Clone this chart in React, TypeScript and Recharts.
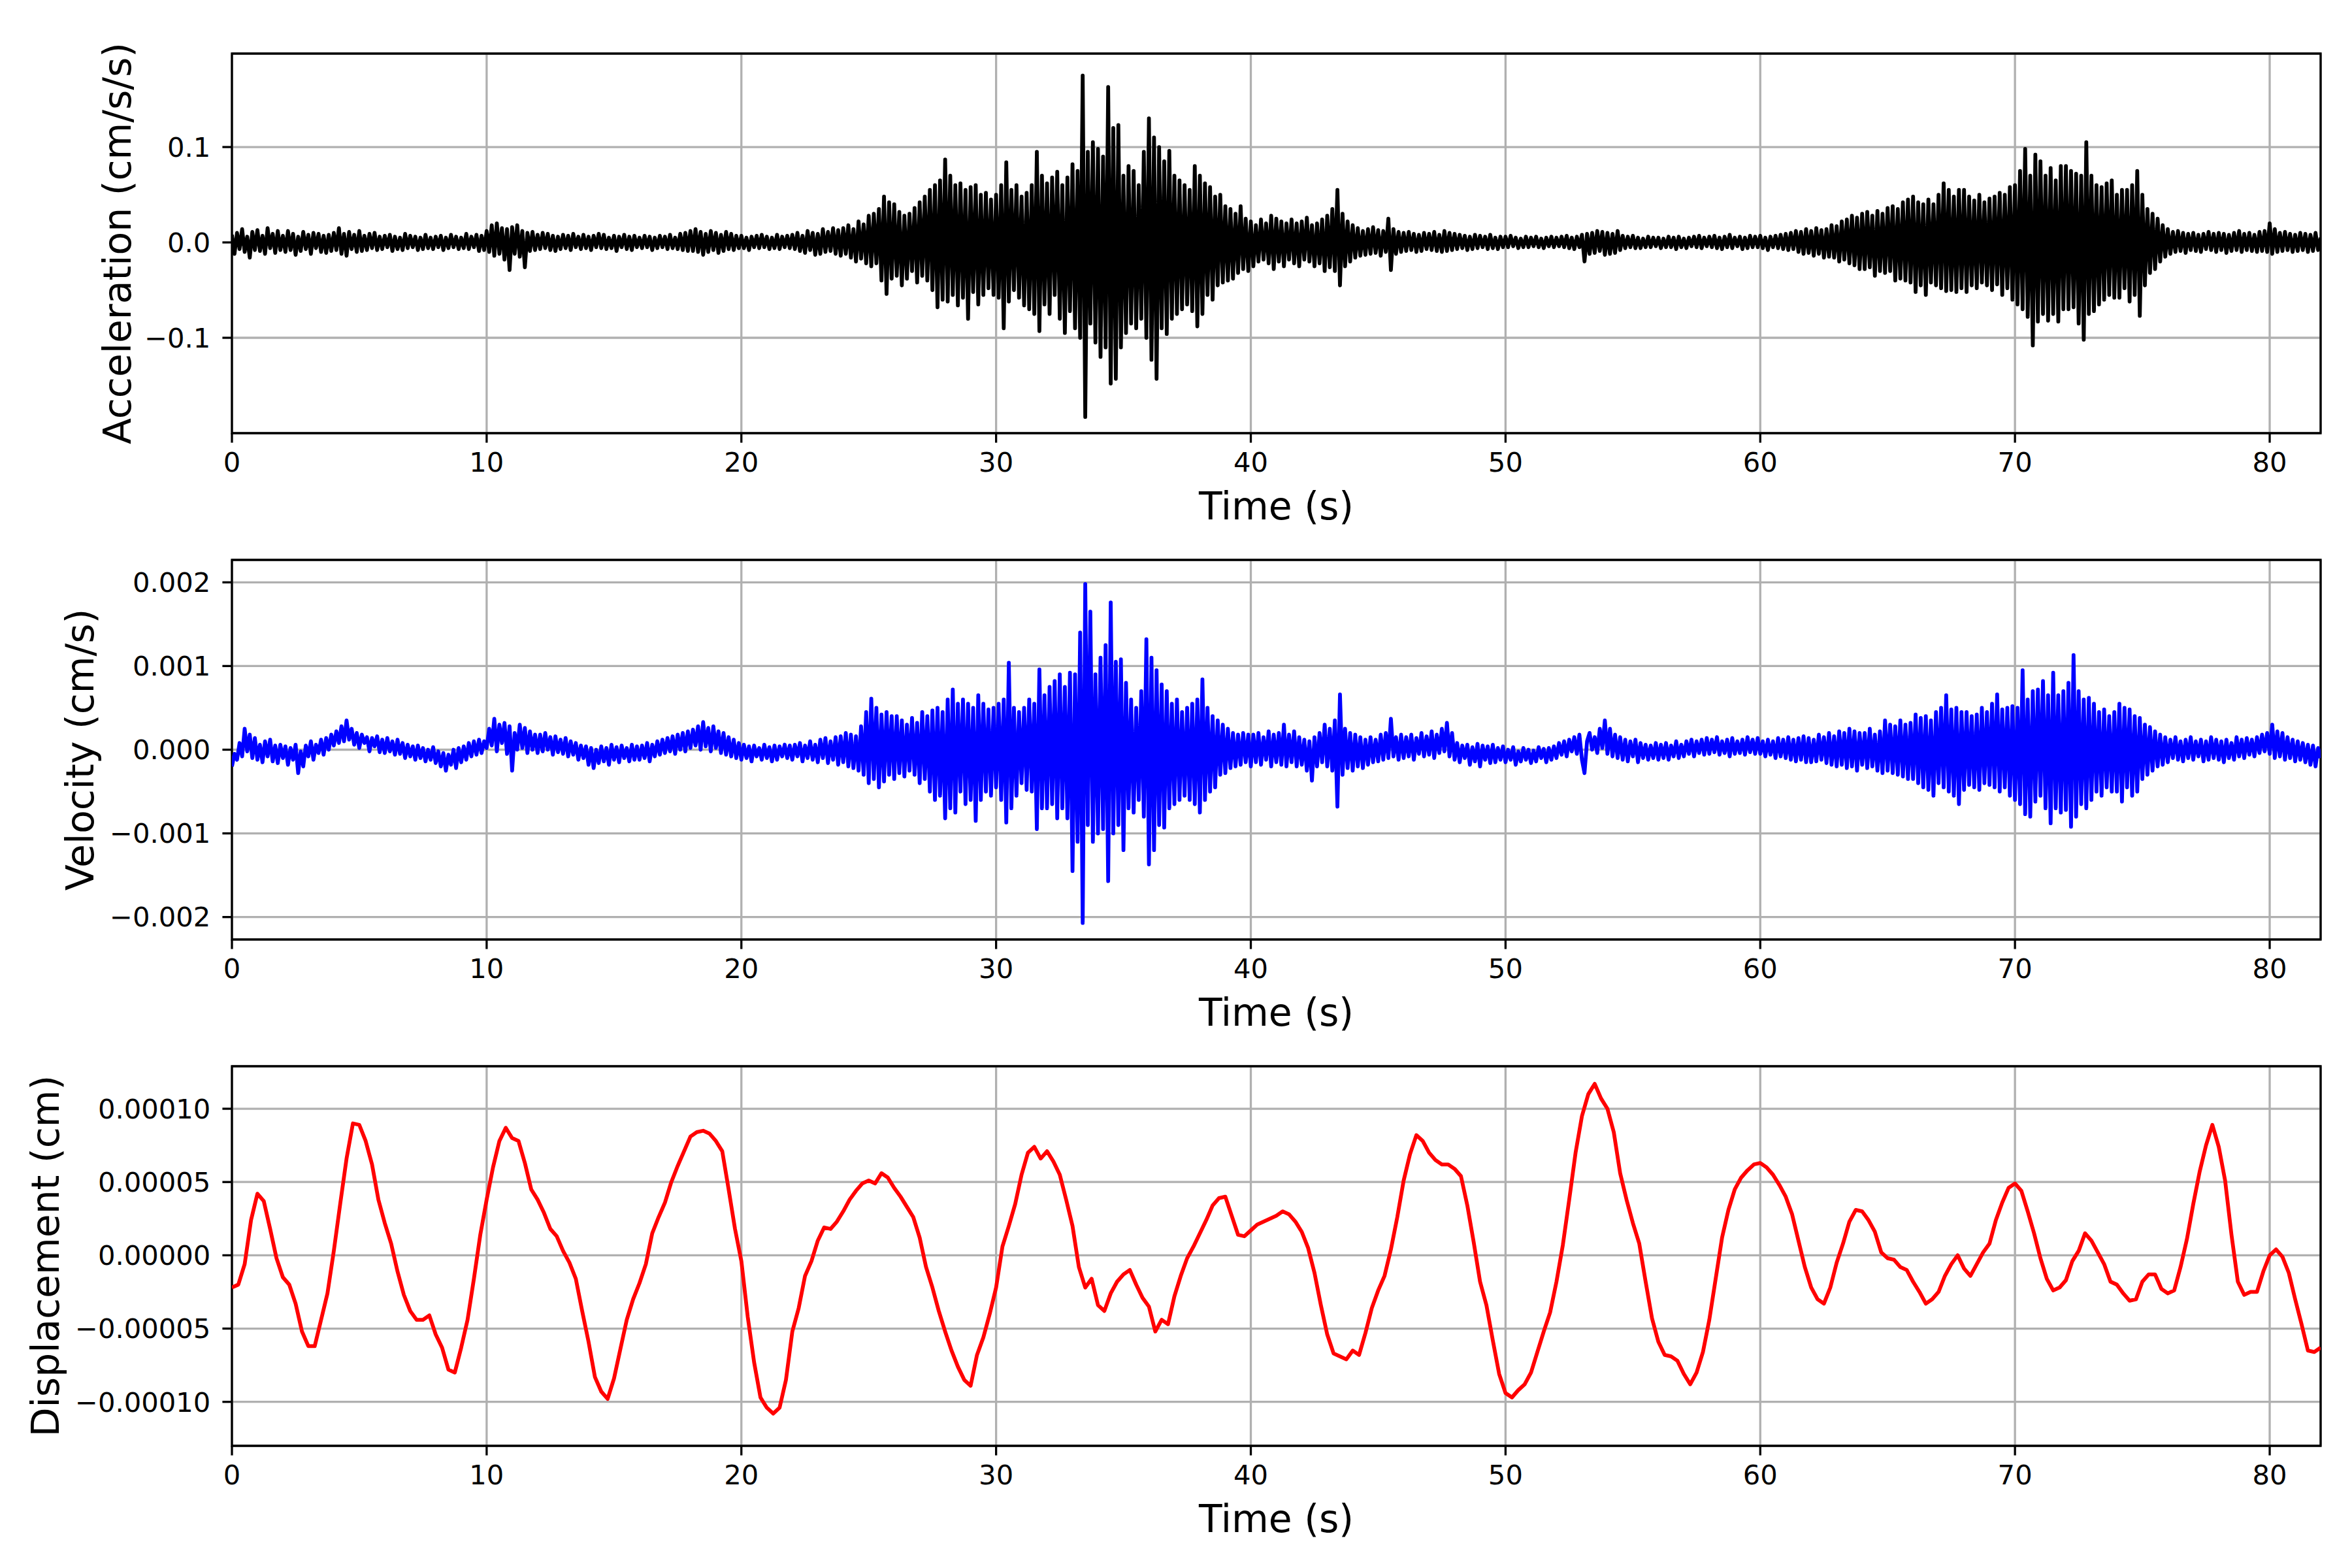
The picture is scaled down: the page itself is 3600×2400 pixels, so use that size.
import { LineChart, Line, XAxis, YAxis, CartesianGrid, ReferenceArea, Label } from "recharts"

const ACC_DT = 0.1
const VEL_DT = 0.1
const DISP_DT = 0.25

// acceleration, in 0.001 cm/s/s (one row = 2 s)
const ACC_MILLI = [
  8, -12, 10, -7, 14, -10, 6, -16, 11, -8, 13, -9, 7, -12, 15, -6, 9, -11, 12, -8,
  7, -10, 12, -8, 9, -13, 6, -9, 11, -7, 8, -12, 10, -6, 9, -10, 7, -11, 8, -9,
  10, -8, 15, -12, 9, -14, 11, -7, 8, -10, 12, -9, 7, -8, 9, -6, 10, -8, 6, -7,
  7, -5, 8, -9, 6, -7, 5, -8, 9, -6, 7, -5, 6, -8, 5, -7, 8, -6, 5, -7,
  6, -5, 7, -8, 5, -6, 8, -5, 6, -7, 5, -6, 9, -7, 6, -5, 8, -9, 7, -8,
  12, -10, 18, -14, 20, -12, 15, -18, 14, -29, 16, -12, 18, -15, 12, -26, 10, -9, 11, -8,
  8, -7, 10, -6, 9, -8, 7, -9, 6, -7, 8, -6, 7, -8, 9, -5, 6, -7, 8, -6,
  6, -8, 7, -5, 9, -6, 8, -7, 5, -6, 7, -9, 6, -5, 8, -7, 6, -8, 7, -5,
  5, -6, 7, -5, 6, -8, 5, -6, 7, -5, 6, -7, 8, -6, 5, -7, 9, -8, 10, -9,
  12, -9, 14, -10, 11, -13, 9, -10, 12, -8, 10, -11, 8, -9, 11, -7, 9, -8, 7, -6,
  7, -6, 5, -8, 6, -5, 7, -6, 8, -5, 6, -7, 5, -6, 8, -7, 6, -5, 7, -6,
  8, -7, 10, -9, 7, -11, 12, -8, 10, -13, 9, -12, 14, -10, 11, -9, 15, -12, 13, -14,
  15, -12, 18, -16, 14, -20, 22, -17, 19, -22, 28, -25, 30, -22, 35, -40, 48, -54, 42, -38,
  40, -35, 32, -45, 28, -38, 30, -30, 36, -42, 42, -35, 48, -40, 55, -50, 60, -68, 65, -60,
  87, -62, 70, -55, 60, -66, 62, -58, 55, -80, 58, -52, 60, -65, 50, -55, 52, -48, 45, -55,
  50, -58, 60, -90, 84, -62, 55, -50, 60, -58, 48, -66, 52, -70, 60, -75, 95, -93, 70, -65,
  62, -75, 68, -55, 74, -80, 60, -95, 68, -72, 82, -90, 75, -100, 175, -183, 95, -85, 105, -105,
  98, -120, 90, -110, 163, -148, 120, -143, 123, -110, 70, -95, 80, -85, 75, -90, 60, -80, 95, -100,
  130, -123, 110, -143, 100, -90, 85, -96, 96, -80, 70, -75, 65, -70, 60, -65, 55, -72, 80, -88,
  70, -75, 62, -55, 58, -60, 48, -45, 50, -42, 38, -40, 35, -38, 30, -32, 38, -28, 25, -30,
  22, -25, 18, -20, 24, -18, 20, -22, 28, -28, 25, -20, 22, -25, 20, -18, 24, -22, 20, -25,
  22, -18, 26, -20, 18, -25, 20, -22, 24, -30, 28, -26, 35, -30, 55, -45, 30, -25, 22, -20,
  18, -16, 15, -14, 12, -13, 14, -12, 16, -11, 13, -14, 12, -10, 25, -29, 14, -12, 11, -10,
  10, -9, 11, -8, 9, -10, 8, -9, 10, -7, 9, -8, 11, -9, 8, -10, 12, -9, 10, -8,
  9, -7, 8, -6, 7, -8, 6, -7, 8, -6, 7, -5, 6, -7, 8, -6, 5, -7, 6, -5,
  6, -5, 7, -4, 5, -6, 4, -5, 6, -5, 5, -4, 6, -5, 4, -6, 5, -4, 6, -5,
  5, -4, 6, -5, 7, -6, 5, -7, 6, -5, 8, -20, 9, -12, 10, -11, 12, -9, 11, -13,
  10, -12, 9, -11, 12, -8, 7, -6, 6, -5, 7, -6, 5, -6, 4, -5, 6, -5, 5, -4,
  5, -6, 4, -5, 6, -5, 5, -7, 6, -5, 4, -6, 5, -4, 6, -5, 7, -6, 5, -4,
  6, -5, 7, -6, 5, -7, 6, -5, 8, -6, 5, -4, 6, -7, 5, -6, 7, -5, 6, -5,
  7, -6, 5, -8, 6, -5, 7, -6, 8, -7, 9, -8, 10, -7, 12, -10, 11, -12, 14, -11,
  12, -14, 15, -12, 13, -16, 14, -15, 18, -16, 17, -20, 22, -18, 24, -22, 28, -24, 26, -28,
  30, -28, 32, -26, 28, -35, 33, -30, 30, -32, 36, -30, 38, -40, 35, -38, 42, -40, 45, -42,
  48, -52, 42, -45, 40, -55, 45, -42, 40, -45, 50, -48, 62, -51, 55, -50, 48, -52, 55, -48,
  55, -52, 48, -45, 44, -48, 50, -42, 42, -45, 46, -50, 48, -44, 52, -55, 50, -48, 58, -60,
  60, -65, 75, -70, 98, -78, 70, -108, 92, -83, 85, -75, 70, -82, 78, -75, 65, -83, 80, -70,
  80, -70, 75, -68, 72, -85, 70, -102, 105, -75, 70, -72, 60, -65, 58, -60, 62, -55, 65, -58,
  50, -58, 55, -48, 55, -62, 60, -55, 75, -77, 50, -45, 35, -32, 30, -28, 25, -20, 18, -15,
  14, -12, 11, -10, 12, -9, 10, -11, 9, -8, 10, -9, 8, -10, 9, -7, 11, -8, 9, -10,
  10, -8, 9, -11, 8, -9, 10, -8, 12, -10, 9, -8, 10, -9, 8, -10, 11, -9, 12, -10,
  20, -12, 14, -10, 10, -9, 11, -8, 9, -10, 8, -9, 10, -8, 9, -10, 8, -9, 10, -8,
  5,
]

// velocity, in 1e-5 cm/s (one row = 2 s)
const VEL_E5 = [
  -20, -5, -12, 8, -8, 25, -2, 18, -10, 14, -12, 6, -15, 10, -8, 12, -14, 5, -16, 6,
  -10, 4, -18, 2, -12, 6, -28, -2, -20, 5, -8, 10, -12, 6, -4, 12, -6, 14, 0, 18,
  5, 22, 8, 28, 10, 35, 12, 25, 6, 20, 2, 18, 8, 15, -2, 14, 4, 16, -3, 12,
  -4, 14, -2, 10, -6, 12, -5, 8, -10, 6, -8, 4, -12, 5, -10, 2, -14, 0, -12, 3,
  -16, -2, -20, -4, -25, -6, -18, 0, -22, 2, -15, 4, -12, 8, -8, 10, -6, 12, -4, 10,
  2, 25, 5, 37, -2, 30, 8, 32, -5, 28, -25, 20, 0, 30, 2, 26, -4, 22, 0, 18,
  -4, 18, -2, 20, 0, 15, -6, 16, -3, 12, -5, 14, -8, 10, -6, 8, -12, 5, -10, 4,
  -18, 2, -22, 0, -16, 4, -14, 2, -18, 6, -12, 3, -15, 5, -10, 2, -14, 6, -12, 4,
  -12, 5, -10, 8, -14, 6, -8, 10, -6, 12, -4, 14, -2, 16, -5, 18, 0, 20, -2, 22,
  2, 24, 5, 28, 0, 33, 4, 26, -2, 28, 2, 22, -4, 20, -6, 15, -8, 12, -10, 8,
  -12, 6, -10, 4, -14, 5, -8, 2, -12, 6, -10, 3, -14, 5, -12, 4, -8, 6, -10, 5,
  -12, 6, -8, 8, -14, 5, -10, 10, -12, 6, -15, 12, -10, 14, -16, 10, -12, 15, -18, 16,
  -15, 20, -20, 18, -22, 16, -25, 28, -30, 45, -40, 61, -35, 50, -45, 42, -38, 45, -30, 40,
  -35, 40, -28, 35, -32, 30, -25, 38, -30, 32, -40, 45, -35, 40, -50, 47, -60, 50, -55, 45,
  -82, 60, -70, 72, -75, 55, -50, 60, -65, 55, -60, 50, -85, 65, -60, 55, -50, 48, -55, 50,
  -45, 55, -60, 60, -87, 104, -70, 50, -55, 45, -40, 50, -48, 60, -50, 55, -95, 96, -70, 65,
  -70, 75, -65, 82, -82, 90, -70, 75, -82, 92, -145, 90, -110, 140, -207, 198, -90, 165, -110, 90,
  -100, 110, -95, 125, -157, 176, -100, 105, -90, 108, -120, 80, -70, 60, -75, 50, -60, 70, -80, 132,
  -137, 110, -120, 95, -90, 78, -93, 70, -70, 55, -65, 60, -60, 45, -55, 50, -60, 55, -65, 60,
  -75, 84, -60, 50, -50, 40, -45, 35, -30, 30, -28, 25, -22, 20, -20, 18, -18, 20, -15, 18,
  -20, 18, -15, 20, -18, 15, -12, 22, -20, 18, -15, 20, -18, 30, -20, 18, -15, 22, -20, 15,
  -18, 12, -25, 10, -37, 15, -20, 20, -15, 30, -20, 25, -25, 35, -68, 66, -30, 25, -22, 20,
  -25, 18, -20, 15, -22, 12, -18, 15, -15, 12, -14, 18, -12, 20, -10, 37, -8, 15, -12, 18,
  -10, 15, -8, 18, -12, 14, -5, 20, -8, 16, -6, 22, -10, 18, -4, 25, -2, 32, -8, 20,
  -12, 8, -15, 5, -10, 6, -18, 3, -14, 7, -20, 5, -12, 4, -16, 6, -15, 2, -12, 4,
  -15, 0, -12, 3, -18, -2, -14, 2, -12, 0, -16, -1, -14, 3, -10, 1, -15, 2, -12, 4,
  -10, 8, -6, 10, -8, 12, -2, 15, -5, 18, -12, -28, 10, 20, 0, 15, -4, 25, 2, 35,
  -5, 25, -8, 18, -10, 15, -12, 12, -14, 10, -8, 12, -15, 8, -10, 6, -12, 5, -10, 8,
  -12, 6, -10, 8, -12, 5, -8, 10, -10, 6, -8, 10, -5, 12, -8, 10, -4, 12, -6, 14,
  -5, 12, -3, 15, -6, 10, -4, 12, -8, 14, -5, 10, -4, 12, -6, 15, -3, 12, -5, 14,
  -5, 10, -8, 12, -6, 10, -10, 14, -8, 12, -10, 15, -12, 12, -14, 14, -12, 16, -15, 14,
  -15, 12, -14, 18, -12, 15, -16, 20, -18, 16, -20, 22, -18, 20, -22, 25, -20, 22, -25, 20,
  -18, 20, -22, 25, -20, 18, -25, 22, -28, 35, -25, 30, -28, 28, -30, 35, -32, 30, -35, 32,
  -35, 42, -40, 38, -45, 40, -48, 35, -55, 45, -40, 50, -45, 65, -50, 48, -55, 50, -65, 45,
  -48, 45, -42, 40, -45, 42, -48, 50, -40, 45, -42, 55, -45, 66, -50, 48, -45, 50, -55, 52,
  -60, 50, -65, 95, -77, 60, -80, 70, -62, 72, -55, 82, -70, 65, -88, 92, -70, 65, -75, 70,
  -72, 80, -92, 113, -80, 70, -65, 60, -70, 62, -60, 55, -50, 45, -55, 48, -45, 40, -50, 45,
  -50, 55, -62, 50, -45, 48, -55, 40, -50, 38, -35, 30, -30, 27, -25, 22, -20, 18, -18, 15,
  -15, 12, -10, 15, -12, 10, -14, 12, -10, 15, -12, 10, -8, 12, -14, 10, -12, 15, -10, 12,
  -12, 10, -15, 12, -10, 8, -12, 15, -8, 12, -10, 14, -6, 12, -8, 15, -4, 18, -2, 20,
  -5, 30, -10, 22, -8, 20, -12, 15, -10, 12, -14, 10, -12, 8, -15, 6, -18, 5, -20, 2,
  -10,
]

// displacement, in 1e-6 cm (one row = 2 s)
const DISP_E6 = [
  -22, -20, -6, 24, 42, 37, 18, -2,
  -15, -20, -33, -52, -62, -62, -44, -26,
  3, 35, 66, 90, 89, 78, 62, 38,
  22, 8, -11, -27, -38, -44, -44, -41,
  -54, -63, -78, -80, -63, -44, -16, 14,
  38, 60, 78, 87, 80, 78, 63, 45,
  38, 29, 18, 13, 3, -5, -16, -38,
  -59, -83, -93, -98, -84, -64, -44, -30,
  -19, -6, 15, 26, 36, 50, 61, 71,
  81, 84, 85, 83, 78, 71, 45, 18,
  -4, -42, -73, -97, -104, -108, -104, -85,
  -52, -36, -14, -4, 10, 19, 18, 23,
  30, 38, 44, 49, 51, 49, 56, 53,
  46, 40, 33, 26, 12, -8, -22, -38,
  -52, -65, -76, -85, -89, -68, -56, -40,
  -22, 6, 20, 35, 55, 70, 74, 66,
  71, 64, 55, 38, 20, -8, -22, -16,
  -34, -38, -26, -18, -13, -10, -20, -29,
  -35, -52, -44, -47, -28, -14, -2, 6,
  15, 24, 34, 39, 40, 27, 14, 13,
  17, 21, 23, 25, 27, 30, 28, 23,
  16, 5, -12, -34, -54, -67, -69, -71,
  -65, -68, -53, -36, -24, -14, 4, 26,
  51, 69, 82, 78, 70, 65, 62, 62,
  59, 54, 34, 9, -18, -34, -58, -81,
  -94, -97, -92, -88, -80, -66, -52, -39,
  -18, 7, 38, 70, 95, 110, 117, 107,
  100, 84, 56, 38, 22, 8, -18, -43,
  -59, -68, -69, -72, -81, -88, -80, -66,
  -44, -16, 12, 31, 45, 53, 58, 62,
  63, 60, 55, 48, 40, 28, 10, -8,
  -22, -30, -33, -22, -5, 8, 23, 31,
  30, 24, 16, 2, -2, -3, -8, -10,
  -18, -25, -33, -30, -25, -14, -6, 0,
  -9, -14, -6, 2, 8, 24, 36, 46,
  49, 44, 30, 15, -2, -16, -24, -22,
  -17, -4, 3, 15, 10, 2, -6, -18,
  -20, -26, -31, -30, -18, -13, -13, -23,
  -26, -24, -8, 11, 35, 57, 75, 89,
  74, 51, 14, -18, -27, -25, -25, -11,
  0, 4, -1, -12, -30, -47, -65, -66,
  -63,
]

const TIME_TICKS = [0, 10, 20, 30, 40, 50, 60, 70, 80]
const ACC_TICKS = [-0.1, 0, 0.1]
const VEL_TICKS = [-0.002, -0.001, 0, 0.001, 0.002]
const DISP_TICKS = [-0.0001, -0.00005, 0, 0.00005, 0.0001]

const FONT = "DejaVu Sans"
const W = 3600
const PANEL_H = 860
const PLOT_LEFT = 355
const PLOT_RIGHT = 3552
const PLOT_TOP = 82
const PLOT_BOTTOM = 663
const TICK_FONT = 41.7
const LABEL_FONT = 58.3

function toRows(values: number[], dt: number, unit: number) {
  return values.map((v, i) => ({ t: Math.round(i * dt * 100) / 100, v: v * unit }))
}

const accRows = toRows(ACC_MILLI, ACC_DT, 1e-3)
const velRows = toRows(VEL_E5, VEL_DT, 1e-5)
const dispRows = toRows(DISP_E6, DISP_DT, 1e-6)

const fmt = (digits: number) => (v: number) =>
  (Math.abs(v) < 1e-12 ? 0 : v).toFixed(digits).replace("-", "\u2212")

type PanelProps = {
  top: number
  data: { t: number; v: number }[]
  color: string
  domain: [number, number]
  ticks: number[]
  digits: number
  yLabel: string
  yLabelX: number
}

function Panel({ top, data, color, domain, ticks, digits, yLabel, yLabelX }: PanelProps) {
  const tickStyle = { fill: "#000", fontSize: TICK_FONT, fontFamily: FONT }
  const tickLine = { stroke: "#000", strokeWidth: 3.3 }
  const cy = (PLOT_TOP + PLOT_BOTTOM) / 2
  const cx = (PLOT_LEFT + PLOT_RIGHT) / 2
  return (
    <div style={{ position: "absolute", left: 0, top, width: W, height: PANEL_H }}>
      <LineChart
        width={W}
        height={PANEL_H}
        data={data}
        margin={{ top: PLOT_TOP, right: W - PLOT_RIGHT, bottom: PANEL_H - PLOT_BOTTOM - 100, left: PLOT_LEFT - 300 }}
      >
        <CartesianGrid stroke="#b0b0b0" strokeWidth={3.3} />
        <XAxis
          dataKey="t"
          type="number"
          domain={[0, 82]}
          ticks={TIME_TICKS}
          allowDataOverflow
          height={100}
          axisLine={false}
          tickLine={tickLine}
          tickSize={14.6}
          tickMargin={15}
          tick={tickStyle}
          interval={0}
        >
          <Label
            content={() => (
              <text x={cx} y={PLOT_BOTTOM + 132} textAnchor="middle" fontFamily={FONT} fontSize={LABEL_FONT} fill="#000">
                Time (s)
              </text>
            )}
          />
        </XAxis>
        <YAxis
          type="number"
          domain={domain}
          ticks={ticks}
          allowDataOverflow
          width={300}
          axisLine={false}
          tickLine={tickLine}
          tickSize={14.6}
          tickMargin={18}
          tick={tickStyle}
          tickFormatter={fmt(digits)}
          interval={0}
        >
          <Label
            content={() => (
              <text
                x={yLabelX}
                y={cy}
                transform={`rotate(-90 ${yLabelX} ${cy})`}
                textAnchor="middle"
                fontFamily={FONT}
                fontSize={LABEL_FONT}
                fill="#000"
              >
                {yLabel}
              </text>
            )}
          />
        </YAxis>
        <Line
          type="linear"
          dataKey="v"
          stroke={color}
          strokeWidth={5.8}
          strokeLinejoin="round"
          dot={false}
          activeDot={false}
          isAnimationActive={false}
        />
        <ReferenceArea x1={0} x2={82} y1={domain[0]} y2={domain[1]} fill="none" stroke="#000" strokeWidth={3.3} />
      </LineChart>
    </div>
  )
}

export default function App() {
  return (
    <div style={{ position: "absolute", left: 0, top: 0, width: W, height: 2400, background: "#fff" }}>
      <Panel
        top={0}
        data={accRows}
        color="#000000"
        domain={[-0.2, 0.198]}
        ticks={ACC_TICKS}
        digits={1}
        yLabel="Acceleration (cm/s/s)"
        yLabelX={200}
      />
      <Panel
        top={774.75}
        data={velRows}
        color="#0000ff"
        domain={[-0.002268, 0.002268]}
        ticks={VEL_TICKS}
        digits={3}
        yLabel="Velocity (cm/s)"
        yLabelX={143}
      />
      <Panel
        top={1549.5}
        data={dispRows}
        color="#ff0000"
        domain={[-0.00013, 0.000129]}
        ticks={DISP_TICKS}
        digits={5}
        yLabel="Displacement (cm)"
        yLabelX={90}
      />
    </div>
  )
}
